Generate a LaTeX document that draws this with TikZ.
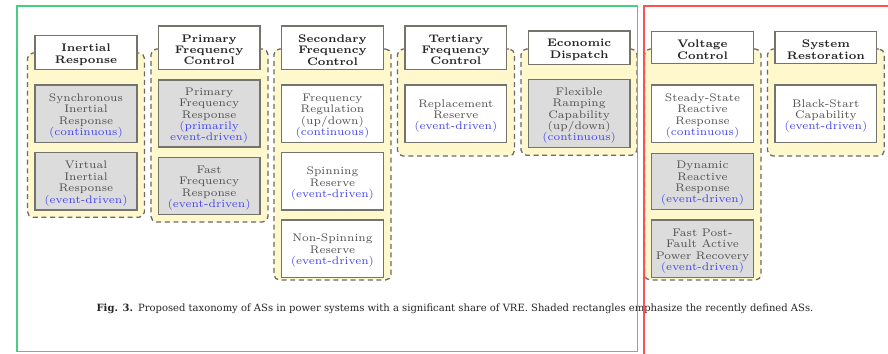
\documentclass[tikz,border=0pt]{standalone}
\usepackage{fontspec}
\newfontfamily\capfont{DejaVu Serif}
\usetikzlibrary{fit}
\definecolor{grpfill}{HTML}{FFF8CC}
\definecolor{grpdraw}{HTML}{6A6A6A}
\definecolor{boxdraw}{HTML}{74746C}
\definecolor{shadefill}{HTML}{DCDCDC}
\definecolor{txtgray}{HTML}{505050}
\definecolor{txtblue}{HTML}{4545F0}
\definecolor{frgreen}{HTML}{45CF7E}
\definecolor{frred}{HTML}{FF5050}
\newcommand\boxfont{\fontsize{6}{6.2}\selectfont}
\newcommand\bl[1]{\textcolor{txtblue}{#1}}
\begin{document}
\begin{tikzpicture}[x=0.545pt,y=-0.545pt,
  grp/.style={draw=grpdraw, fill=grpfill, dashed, dash pattern=on 2.7pt off 2pt,
    line width=0.7pt, rounded corners=3pt, inner sep=0pt},
  frm/.style={draw=boxdraw, fill=white, line width=0.85pt, inner sep=0pt},
  shfrm/.style={frm, fill=shadefill},
  hdrtxt/.style={inner sep=0pt, align=center, font=\boxfont\bfseries, text=black!85},
  astxt/.style={inner sep=0pt, align=center, font=\boxfont, text=txtgray},
  tshift/.style={yshift=-1.2pt},
  frame/.style={line width=0.8pt}]
\useasboundingbox (0,0) rectangle (888,353);
\fill[white] (0,0) rectangle (888,353);
% groups
\node[grp, fit={(27.5,53)(144.5,217.3)}] (g1) {};
\node[grp, fit={(151,49)(268,222)}] (g2) {};
\node[grp, fit={(274,49)(391,280)}] (g3) {};
\node[grp, fit={(397.5,49)(514.5,156)}] (g4) {};
\node[grp, fit={(521,49)(637,155.3)}] (g5) {};
\node[grp, fit={(644.5,49)(761,280)}] (g6) {};
\node[grp, fit={(767.5,49)(884.3,156)}] (g7) {};
% headers
\node[frm, fit={(35,35.7)(137,69.3)}] (h1) {};
\node[frm, fit={(158.3,26)(260,69.3)}] (h2) {};
\node[frm, fit={(281.6,26)(383.3,69.3)}] (h3) {};
\node[frm, fit={(405,26)(506.7,69.3)}] (h4) {};
\node[frm, fit={(528.3,31)(630,64.3)}] (h5) {};
\node[frm, fit={(651.7,31.7)(753.3,63.3)}] (h6) {};
\node[frm, fit={(775,31.7)(876.7,63.3)}] (h7) {};
\node[hdrtxt, tshift] (ht1) at (h1.center) {Inertial\\Response};
\node[hdrtxt, tshift] (ht2) at (h2.center) {Primary\\Frequency\\Control};
\node[hdrtxt, tshift] (ht3) at (h3.center) {Secondary\\Frequency\\Control};
\node[hdrtxt, tshift] (ht4) at (h4.center) {Tertiary\\Frequency\\Control};
\node[hdrtxt, tshift] (ht5) at (h5.center) {Economic\\Dispatch};
\node[hdrtxt, tshift] (ht6) at (h6.center) {Voltage\\Control};
\node[hdrtxt, tshift] (ht7) at (h7.center) {System\\Restoration};
% boxes
\node[shfrm, fit={(35,85)(137,142.7)}] (b11) {};
\node[shfrm, fit={(35,152.7)(137,210)}] (b12) {};
\node[shfrm, fit={(158.3,80)(260,147)}] (b21) {};
\node[shfrm, fit={(158.3,157.3)(260,214.7)}] (b22) {};
\node[frm, fit={(281.6,85)(383.3,142.7)}] (b31) {};
\node[frm, fit={(281.6,152.7)(383.3,210)}] (b32) {};
\node[frm, fit={(281.6,220)(383.3,277.3)}] (b33) {};
\node[frm, fit={(405,85)(506.7,142.7)}] (b41) {};
\node[shfrm, fit={(528.3,79.3)(630,147.7)}] (b51) {};
\node[frm, fit={(651.7,85)(753.3,142.7)}] (b61) {};
\node[shfrm, fit={(651.7,153.3)(753.3,209.3)}] (b62) {};
\node[shfrm, fit={(651.7,220)(753.3,277.7)}] (b63) {};
\node[frm, fit={(775,85)(876.7,142.7)}] (b71) {};
\node[astxt, tshift] (t11) at (b11.center) {Synchronous\\Inertial\\Response\\\bl{(continuous)}};
\node[astxt, tshift] (t12) at (b12.center) {Virtual\\Inertial\\Response\\\bl{(event-driven)}};
\node[astxt, tshift] (t21) at (b21.center) {Primary\\Frequency\\Response\\\bl{(primarily}\\\bl{event-driven)}};
\node[astxt, tshift] (t22) at (b22.center) {Fast\\Frequency\\Response\\\bl{(event-driven)}};
\node[astxt, tshift] (t31) at (b31.center) {Frequency\\Regulation\\(up/down)\\\bl{(continuous)}};
\node[astxt, tshift] (t32) at (b32.center) {Spinning\\Reserve\\\bl{(event-driven)}};
\node[astxt, tshift] (t33) at (b33.center) {Non-Spinning\\Reserve\\\bl{(event-driven)}};
\node[astxt, tshift] (t41) at (b41.center) {Replacement\\Reserve\\\bl{(event-driven)}};
\node[astxt, tshift] (t51) at (b51.center) {Flexible\\Ramping\\Capability\\(up/down)\\\bl{(continuous)}};
\node[astxt, tshift] (t61) at (b61.center) {Steady-State\\Reactive\\Response\\\bl{(continuous)}};
\node[astxt, tshift] (t62) at (b62.center) {Dynamic\\Reactive\\Response\\\bl{(event-driven)}};
\node[astxt, tshift] (t63) at (b63.center) {Fast Post-\\Fault Active\\Power Recovery\\\bl{(event-driven)}};
\node[astxt, tshift] (t71) at (b71.center) {Black-Start\\Capability\\\bl{(event-driven)}};
% caption
\node[anchor=base, inner sep=0pt, font=\capfont\fontsize{5.45}{7}\selectfont, text=black!85] (cap) at (455,311)
  {\textbf{Fig. 3.}\enspace Proposed taxonomy of ASs in power systems with a significant share of VRE. Shaded rectangles emphasize the recently defined ASs.};
% frames
\coordinate (gA) at (17,6); \coordinate (gB) at (637.5,351.5);
\coordinate (rA) at (644,6); \coordinate (rB) at (900,365);
\draw[frame, draw=frgreen] (gA) rectangle (gB);
\draw[frame, draw=frred] (rA) rectangle (rB);
\end{tikzpicture}
\end{document}
